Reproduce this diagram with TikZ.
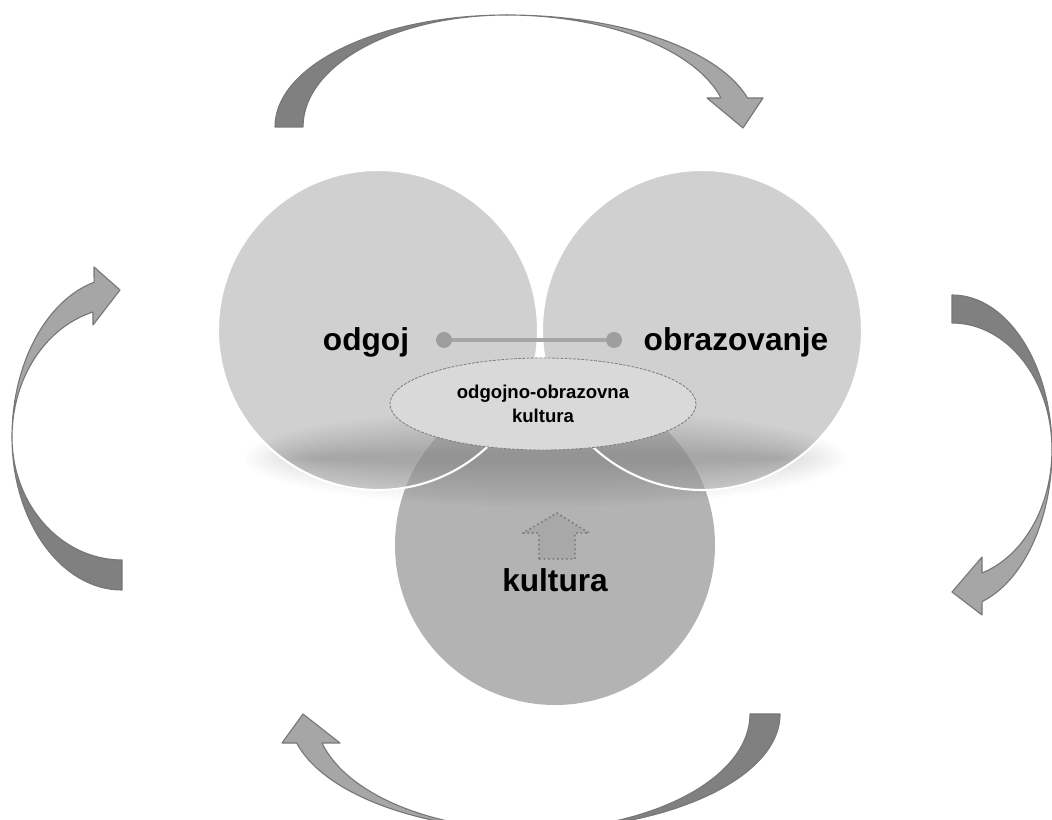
\documentclass[tikz,border=0pt]{standalone}
\usepackage{fontspec}
\setmainfont{Liberation Sans}
\usetikzlibrary{shapes.geometric}

\definecolor{circlelight}{HTML}{D0D0D0}
\definecolor{circledark}{HTML}{B3B3B3}
\definecolor{banddark}{HTML}{808080}
\definecolor{bandlight}{HTML}{A6A6A6}
\definecolor{bandline}{HTML}{777777}
\definecolor{ovalfill}{HTML}{D9D9D9}
\definecolor{ovalline}{HTML}{7F7F7F}
\definecolor{linkgray}{HTML}{A6A6A6}

\begin{document}
\begin{tikzpicture}[x=0.025cm, y=0.025cm, line join=round,
		darkband/.style={fill=banddark, draw=bandline, line width=0.8pt},
		lightband/.style={fill=bandlight, draw=bandline, line width=0.8pt},
		bigtext/.style={font=\fontsize{22.5}{27}\selectfont\bfseries, anchor=base, inner sep=0pt},
		oval/.style={ellipse, draw=ovalline, dash pattern=on 2pt off 1pt, line width=0.6pt, fill=ovalfill,
			minimum width=7.65cm, minimum height=2.3cm, inner sep=0pt, align=center,
			font=\fontsize{13.2}{17}\selectfont\bfseries},
		enddot/.style={circle, fill=linkgray!95!black, minimum size=0.4cm, inner sep=0pt},
		link/.style={draw=linkgray, line width=2.8pt}]
		\useasboundingbox (0,0) rectangle (1052,820);

		% circles
		\foreach \cx in {378,702}
			\fill[circlelight] (\cx,490) circle[radius=160];
		\fill[circledark] (555,275) circle[radius=160];
		\foreach \i in {1,...,14}
			\fill[black, opacity=0.012] (545,362) ellipse[x radius={305-5*\i}, y radius={52-3.3*\i}];
		\foreach \cx in {378,702}
			\draw[white, line width=1.5pt] (\cx,490) circle[radius=160];

		% top
		\draw[lightband] (507,805) arc[start angle=90, end angle=15, x radius=249, y radius=112]
			-- (763,722) -- (743,692) -- (707,722) -- (721,722)
			arc[start angle=15, end angle=90, x radius=222, y radius=112] -- cycle;
		\draw[darkband] (275,693) arc[start angle=180, end angle=90, x radius=232, y radius=112]
			arc[start angle=90, end angle=180, x radius=204, y radius=112] -- cycle;

		% right
		\draw[lightband] (1052,370) arc[start angle=0, end angle=-72.5, x radius=100, y radius=159]
			-- (982,205) -- (952,228) -- (982,263) -- (982,247)
			arc[start angle=-72.5, end angle=0, x radius=100, y radius=129] -- cycle;
		\draw[darkband] (952,525) arc[start angle=90, end angle=0, x radius=100, y radius=155]
			arc[start angle=0, end angle=90, x radius=100, y radius=127] -- cycle;

		% bottom
		\draw[lightband] (530,-10) arc[start angle=270, end angle=194.5, x radius=241, y radius=116]
			-- (282,77) -- (303,106) -- (340,77) -- (322,77)
			arc[start angle=194.5, end angle=270, x radius=215, y radius=116] -- cycle;
		\draw[darkband] (780,106) arc[start angle=0, end angle=-90, x radius=250, y radius=116]
			arc[start angle=-90, end angle=0, x radius=220, y radius=116] -- cycle;

		% left
		\draw[lightband] (12,383) arc[start angle=180, end angle=104.7, x radius=110, y radius=160]
			-- (94,553) -- (120,530) -- (93,495) -- (93,508)
			arc[start angle=105.3, end angle=180, x radius=110, y radius=129.6] -- cycle;
		\draw[darkband] (122,230) arc[start angle=270, end angle=180, x radius=110, y radius=153]
			arc[start angle=180, end angle=270, x radius=110, y radius=123] -- cycle;

		\node[oval] (culture) at (543,416) {odgojno-obrazovna\\kultura};

		\node[enddot] (dotl) at (444,480) {};
		\node[enddot] (dotr) at (614,480) {};
		\draw[link] (dotl) -- (dotr);

		\node[bigtext] (odgoj) at (366,469) {odgoj};
		\node[bigtext] (obraz) at (736,469) {obrazovanje};
		\node[bigtext] (kult) at (555,228) {kultura};

		\draw[fill=circledark!94!black, draw=ovalline, dotted, line width=1.2pt]
			(539,261) -- (539,287) -- (523,287) -- (557,307) -- (589,287) -- (575,287) -- (575,261) -- cycle;
	\end{tikzpicture}
\end{document}
